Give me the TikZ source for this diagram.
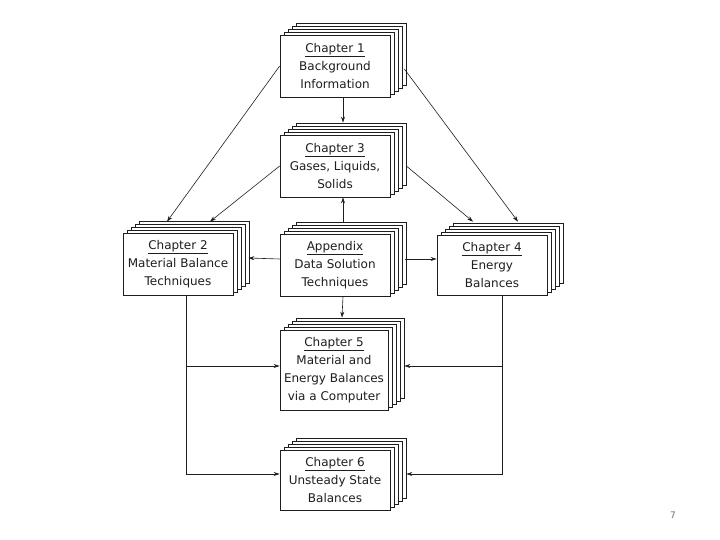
\documentclass[tikz,border=0pt]{standalone}
\usepackage{fontspec}
\setmainfont{DejaVu Sans}
\usetikzlibrary{arrows.meta,shadows}
\definecolor{inkblack}{RGB}{30,30,30}
\definecolor{pagegray}{RGB}{110,110,110}

\begin{document}
\begin{tikzpicture}[x=1pt,y=-1pt,
    pagestack/.style={draw=inkblack,fill=white,line width=0.7pt,
      minimum width=110pt,minimum height=62pt,inner sep=0pt,align=center,
      font=\fontsize{12}{18}\selectfont,text=inkblack,
      copy shadow={shadow xshift=16pt,shadow yshift=12pt,draw=inkblack,fill=white},
      copy shadow={shadow xshift=12pt,shadow yshift=9pt,draw=inkblack,fill=white},
      copy shadow={shadow xshift=8pt,shadow yshift=6pt,draw=inkblack,fill=white},
      copy shadow={shadow xshift=4pt,shadow yshift=3pt,draw=inkblack,fill=white}},
    link/.style={draw=inkblack,line width=0.6pt,-{Stealth[length=6pt,width=4pt]}}]
    \useasboundingbox (0,0) rectangle (720,540);

    % Chapter stacks
    \node[pagestack] (ch1) at (335,66) {\underline{Chapter 1}\\Background\\Information};
    \node[pagestack] (ch3) at (335,166) {\underline{Chapter 3}\\Gases, Liquids,\\Solids};
    \node[pagestack] (ch2) at (178,264) {\underline{Chapter 2}\\Material Balance\\Techniques};
    \node[pagestack] (app) at (335,265) {\underline{Appendix}\\Data Solution\\Techniques};
    \node[pagestack,minimum width=110pt,minimum height=60pt] (ch4) at (492,265) {\underline{Chapter 4}\\Energy\\Balances};
    \node[pagestack,minimum width=108pt,minimum height=80pt] (ch5) at (334,370) {\underline{Chapter 5}\\Material and\\Energy Balances\\via a Computer};
    \node[pagestack,minimum height=60pt] (ch6) at (335,480) {\underline{Chapter 6}\\Unsteady State\\Balances};

    % From Chapter 1 and Chapter 3
    \draw[link] ([xshift=8pt]ch1.south) -- ([shift={(8pt,12pt)}]ch3.north);
    \draw[link] (ch1.west) -- ([shift={(-11pt,11pt)}]ch2.north);
    \draw[link] ([shift={(14pt,-3pt)}]ch1.east) -- ([shift={(26pt,13pt)}]ch4.north);
    \draw[link] (ch3.west) -- ([shift={(32pt,11pt)}]ch2.north);
    \draw[link] ([xshift=16pt]ch3.east) -- ([shift={(-19pt,13pt)}]ch4.north);

    % From the appendix
    \draw[link] ([shift={(8pt,12pt)}]app.north) -- ([xshift=8pt]ch3.south);
    \draw[link] ([yshift=6pt]app.west) -- ([shift={(15pt,6pt)}]ch2.east);
    \draw[link] ([shift={(15pt,6pt)}]app.east) -- ([yshift=6pt]ch4.west);
    \draw[link] ([xshift=8pt]app.south) -- ([shift={(8pt,12pt)}]ch5.north);

    % Down to Chapter 5 and Chapter 6
    \draw[link] ([xshift=8pt]ch2.south) |- ([yshift=4pt]ch5.west);
    \draw[link] ([xshift=8pt]ch2.south) |- ([yshift=6pt]ch6.west);
    \draw[link] ([xshift=10pt]ch4.south) |- ([shift={(16pt,4pt)}]ch5.east);
    \draw[link] ([xshift=10pt]ch4.south) |- ([shift={(16pt,6pt)}]ch6.east);

    % Page number
    \node[pagegray,font=\fontsize{9}{11}\selectfont] (pageno) at (673,515) {7};
\end{tikzpicture}
\end{document}
